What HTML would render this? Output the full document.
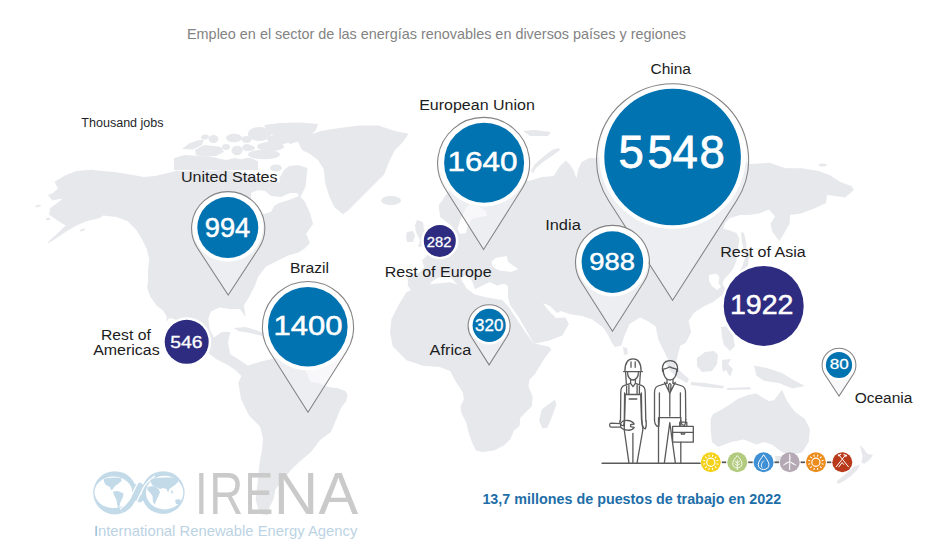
<!DOCTYPE html>
<html><head><meta charset="utf-8"><style>
html,body{margin:0;padding:0;background:#fff;}
body{width:946px;height:549px;overflow:hidden;position:relative;}
svg{position:absolute;left:0;top:0;}
text{font-family:"Liberation Sans",Arial,sans-serif;}
.num{fill:#fff;text-anchor:middle;stroke:#fff;}
.lbl{fill:#1c1c1c;font-size:15.5px;text-anchor:middle;}
</style></head><body>
<svg width="946" height="549" viewBox="0 0 946 549">
<defs>
<linearGradient id="pg" x1="0" y1="0" x2="0" y2="1">
<stop offset="0" stop-color="#fff" stop-opacity="1"/>
<stop offset="0.55" stop-color="#fff" stop-opacity="0.85"/>
<stop offset="1" stop-color="#f4f4f6" stop-opacity="0.5"/>
</linearGradient>
</defs>
<g fill="#e7e8ec">
<path d="M182.0,149.0 L189.0,143.5 L197.0,140.5 L204.0,139.5 L202.0,145.0 L193.0,149.5Z"/>
<path d="M195.0,150.0 L204.0,145.0 L214.0,146.0 L221.0,147.0 L224.0,152.0 L216.0,156.0 L205.0,156.5 L196.0,155.0Z"/>
<path d="M174.0,158.0 L185.0,155.0 L200.0,156.0 L212.0,157.0 L226.0,160.0 L235.0,158.0 L245.0,160.0 L252.0,160.0 L258.0,161.0 L258.0,170.0 L174.0,170.0Z"/>
<path d="M264.0,125.0 L280.0,123.0 L300.0,122.5 L318.0,124.0 L316.0,130.0 L310.0,136.0 L300.0,141.0 L290.0,144.0 L285.0,140.0 L275.0,136.0 L268.0,133.0Z"/>
<path d="M267.0,137.0 L278.0,134.0 L290.0,136.0 L288.0,143.0 L278.0,145.0 L268.0,143.0Z"/>
<path d="M54.6,181.8 L65.5,175.3 L76.4,170.9 L91.7,169.8 L97.0,170.5 L114.0,172.0 L130.0,174.5 L144.0,177.0 L155.0,176.0 L168.0,173.0 L177.0,170.5 L188.0,171.0 L200.0,170.0 L212.0,171.0 L224.0,170.0 L236.0,172.0 L248.0,174.0 L258.0,178.0 L266.0,181.0 L274.0,180.0 L282.0,184.0 L290.0,189.0 L298.0,194.0 L305.0,202.0 L310.0,213.0 L313.0,224.0 L306.0,234.0 L310.0,243.0 L304.0,249.0 L298.0,252.7 L288.0,255.5 L277.0,261.0 L266.0,266.4 L258.0,277.0 L255.0,285.5 L248.0,299.0 L244.0,305.0 L245.5,317.0 L242.0,312.0 L239.8,309.0 L230.0,309.0 L219.3,307.4 L211.0,311.5 L208.3,318.3 L209.7,329.3 L213.8,337.5 L222.0,332.0 L230.2,332.0 L228.0,343.0 L230.2,353.9 L238.4,359.3 L246.6,364.8 L254.8,370.3 L257.5,375.8 L252.0,378.5 L243.9,378.5 L235.7,370.3 L227.5,364.8 L216.5,359.3 L205.6,351.1 L194.7,340.2 L181.0,326.5 L178.3,320.8 L171.9,318.3 L168.5,318.5 L166.8,322.0 L166.5,316.0 L163.0,310.6 L156.6,305.5 L150.2,296.6 L147.2,288.0 L148.0,281.0 L148.0,270.3 L149.3,259.3 L146.6,248.4 L141.0,237.5 L135.7,229.3 L127.5,221.0 L116.5,217.0 L102.9,215.6 L100.0,217.9 L87.3,221.0 L76.4,225.5 L65.5,232.0 L52.4,240.8 L47.5,243.5 L48.0,242.0 L59.0,232.0 L65.5,225.5 L56.8,220.0 L49.1,214.6 L50.2,208.0 L56.0,204.0 L63.0,198.5 L57.0,199.5 L52.4,200.4 L48.0,195.0 L53.0,193.0 L57.9,188.4Z"/>
<path d="M289.0,166.0 L298.0,165.0 L307.4,168.0 L306.5,177.0 L305.6,186.4 L302.0,194.0 L298.3,201.0 L289.2,204.6 L284.0,200.0 L280.0,195.5 L279.0,186.0 L280.0,177.3 L284.0,170.0Z"/>
<path d="M304.7,136.4 L321.0,131.0 L337.5,128.2 L359.3,125.5 L378.5,125.5 L394.9,131.0 L408.6,133.7 L403.0,141.9 L394.9,150.0 L389.4,161.0 L384.0,174.7 L373.0,185.6 L364.8,193.8 L356.6,202.0 L348.4,210.2 L343.0,214.3 L334.7,207.5 L329.3,196.5 L325.2,182.9 L323.8,169.2 L318.0,160.0 L310.0,154.0 L302.0,150.0 L298.0,142.0 L300.0,137.0Z"/>
<path d="M246.5,366.0 L262.9,361.0 L276.5,358.0 L293.0,358.0 L300.0,364.0 L305.5,370.4 L310.6,381.9 L318.3,383.2 L328.5,387.0 L337.4,388.3 L345.0,390.8 L347.6,394.6 L346.3,401.0 L341.2,407.4 L336.7,418.3 L331.0,432.0 L320.0,440.0 L311.0,452.0 L299.0,462.0 L291.0,470.0 L283.0,480.0 L275.4,489.6 L273.4,499.5 L269.4,507.5 L267.5,515.4 L259.5,513.4 L255.6,499.5 L257.5,483.6 L259.5,463.8 L262.0,450.0 L263.0,438.0 L260.0,426.5 L249.0,415.6 L241.0,399.0 L238.3,382.8 L243.0,372.0Z"/>
<path d="M234.0,328.0 L245.0,327.0 L256.0,330.0 L266.0,334.0 L262.0,336.0 L250.0,333.0 L238.0,331.0Z"/>
<path d="M268.0,332.0 L279.0,332.0 L279.0,337.0 L268.0,337.0Z"/>
<path d="M406.5,291.9 L420.1,286.4 L433.8,283.7 L450.2,282.3 L463.9,286.4 L474.8,294.6 L485.8,297.3 L502.2,300.0 L507.6,305.5 L513.1,313.7 L524.0,330.1 L533.0,343.0 L541.0,345.0 L548.6,346.5 L551.4,349.3 L543.2,360.2 L535.0,373.9 L529.3,380.0 L528.5,386.6 L532.6,396.4 L531.8,406.2 L525.2,412.8 L520.3,417.7 L519.5,425.9 L513.8,430.8 L510.5,439.0 L503.9,445.6 L494.1,450.5 L482.6,452.1 L476.1,450.5 L472.8,443.9 L469.5,435.7 L466.2,422.6 L461.3,412.8 L460.5,406.2 L463.8,399.7 L463.0,393.1 L458.0,384.9 L454.8,380.0 L450.2,371.1 L439.3,367.0 L422.9,365.7 L406.5,360.2 L392.8,346.5 L390.0,332.9 L391.4,319.2 L398.3,305.5Z"/>
<path d="M554.8,399.7 L556.4,404.6 L551.5,417.7 L547.4,427.5 L542.5,428.4 L539.2,421.0 L541.6,409.5 L548.2,404.6Z"/>
<path d="M407.8,276.5 L411.4,272.9 L418.7,272.9 L424.0,267.4 L422.3,260.0 L426.0,256.5 L433.0,251.0 L440.5,245.5 L449.6,240.0 L452.0,232.0 L451.7,226.0 L446.6,222.0 L440.2,217.0 L439.0,209.3 L439.0,205.0 L445.0,196.0 L455.0,185.0 L468.0,175.0 L480.0,168.0 L495.0,165.0 L510.0,172.0 L520.0,178.0 L529.0,181.0 L542.0,177.0 L553.6,176.0 L560.0,166.0 L566.0,160.6 L571.0,166.0 L574.0,171.0 L576.5,178.5 L578.0,170.0 L581.6,162.0 L589.3,158.0 L596.0,158.0 L610.0,152.0 L630.0,148.0 L660.0,145.0 L700.0,148.0 L730.0,155.0 L750.0,164.0 L769.4,162.8 L785.8,168.3 L802.2,168.3 L818.6,171.0 L829.5,175.0 L840.4,182.0 L851.4,186.0 L854.0,190.0 L845.0,197.5 L835.0,196.0 L827.0,195.0 L826.0,203.0 L813.0,209.0 L801.0,213.5 L790.0,215.0 L789.5,223.7 L783.7,233.9 L779.3,241.2 L772.0,231.0 L770.6,223.7 L775.0,216.4 L769.0,209.5 L759.0,213.5 L748.7,215.0 L740.0,215.0 L730.0,218.0 L725.0,223.0 L723.3,228.7 L729.2,230.2 L736.5,233.1 L739.4,239.0 L737.9,249.2 L736.5,260.8 L733.5,268.1 L729.2,274.0 L724.8,278.3 L722.5,283.0 L724.0,287.0 L727.3,291.0 L724.0,293.7 L713.1,301.9 L702.2,307.3 L694.0,312.8 L688.5,321.0 L691.2,331.9 L685.8,342.9 L680.3,345.6 L677.5,356.5 L674.8,367.5 L669.3,362.0 L663.9,351.1 L658.4,340.1 L655.7,326.5 L647.5,321.0 L640.0,317.5 L629.5,324.1 L624.6,335.6 L621.3,345.4 L614.8,347.0 L611.5,342.1 L608.2,335.6 L603.3,327.4 L598.4,324.1 L591.8,319.2 L582.0,315.9 L570.5,314.3 L560.7,311.0 L557.0,313.0 L550.0,306.0 L543.0,303.0 L548.0,310.0 L556.0,318.0 L565.6,317.5 L568.9,324.1 L562.3,335.6 L549.2,340.5 L534.4,343.8 L532.8,342.1 L526.0,330.0 L518.0,316.0 L510.0,305.0 L508.0,297.0 L508.0,286.0 L504.3,283.8 L497.0,285.6 L489.7,282.0 L482.4,285.6 L475.1,289.3 L471.5,280.1 L466.0,275.0 L460.6,278.3 L466.0,287.4 L462.4,289.3 L455.0,282.0 L447.8,274.7 L442.4,276.5 L436.9,278.3 L431.4,282.0 L427.8,289.3 L418.7,292.0 L411.4,291.0 L407.8,285.6Z"/>
<path d="M417.0,220.0 L423.0,222.0 L424.0,230.0 L427.0,240.0 L426.0,246.0 L418.0,247.0 L420.0,240.0 L416.0,232.0 L415.0,225.0Z"/>
<path d="M407.0,232.0 L413.0,231.0 L415.0,236.0 L413.0,242.0 L407.0,242.0 L406.0,237.0Z"/>
<path d="M558.7,147.9 L560.0,150.0 L552.0,156.0 L543.0,162.0 L536.0,168.0 L533.0,173.0 L531.0,171.0 L535.0,164.0 L543.0,157.0 L552.0,150.0Z"/>
<path d="M523.0,131.0 L535.0,130.0 L551.0,132.0 L548.0,136.0 L530.0,136.0Z"/>
<path d="M746.0,250.0 L751.0,251.0 L752.0,255.0 L749.0,258.0 L748.0,265.0 L744.0,271.0 L740.0,275.0 L738.0,273.5 L742.0,267.0 L744.5,260.0 L746.0,255.0Z"/>
<path d="M741.0,232.0 L744.0,233.0 L746.5,244.0 L746.0,250.0 L743.5,249.0 L742.0,242.0Z"/>
<path d="M728.0,304.0 L731.0,305.0 L730.0,311.0 L727.0,309.0Z"/>
<path d="M623.0,347.0 L627.0,348.0 L628.0,354.0 L624.0,355.0Z"/>
<path d="M721.0,327.0 L728.0,326.0 L733.0,335.0 L735.0,346.0 L730.0,351.0 L724.0,345.0 L722.0,337.0Z"/>
<path d="M664.0,360.0 L670.0,362.0 L680.0,371.0 L689.0,379.0 L687.0,383.0 L678.0,378.0 L670.0,371.0Z"/>
<path d="M691.0,382.0 L705.0,383.0 L724.0,386.0 L723.0,388.5 L705.0,387.0 L691.0,385.0Z"/>
<path d="M727.0,388.0 L750.0,387.0 L751.0,389.5 L727.0,390.0Z"/>
<path d="M697.0,358.0 L705.0,352.0 L714.0,351.0 L718.0,355.0 L717.0,364.0 L712.0,371.0 L702.0,372.0 L697.0,366.0Z"/>
<path d="M722.0,360.0 L731.0,359.0 L728.0,364.0 L733.0,369.0 L730.0,377.0 L726.0,370.0 L723.0,372.0 L722.0,366.0Z"/>
<path d="M753.9,365.5 L766.7,368.0 L782.0,373.1 L794.7,380.8 L804.9,385.9 L792.2,388.4 L779.4,383.3 L764.1,380.8 L756.5,375.7Z"/>
<path d="M713.1,413.9 L723.3,408.8 L738.6,398.6 L748.8,394.8 L756.5,393.5 L764.1,398.6 L769.2,401.2 L774.3,399.9 L782.0,389.7 L787.1,401.2 L794.7,411.4 L804.9,419.0 L810.0,429.2 L808.7,442.0 L802.4,452.2 L792.2,454.7 L782.0,452.2 L771.8,444.5 L764.1,442.0 L756.5,444.5 L743.7,439.4 L731.0,442.0 L718.2,447.1 L711.9,442.0 L710.6,429.2 L710.6,419.0Z"/>
<path d="M775.0,456.0 L782.0,456.0 L780.0,462.0 L776.0,462.0Z"/>
<path d="M859.8,444.8 L864.1,449.2 L867.0,453.5 L872.9,455.0 L870.0,459.4 L864.1,463.7 L861.2,462.3 L862.7,456.4 L861.2,450.6Z"/>
<path d="M860.5,464.5 L857.0,470.0 L851.0,476.0 L844.0,481.0 L838.0,484.0 L836.5,481.5 L842.0,477.0 L848.0,472.0 L854.0,466.5Z"/>
<ellipse cx="391" cy="200.5" rx="10" ry="4.5"/>
<ellipse cx="822.7" cy="165" rx="4" ry="1.5" transform="rotate(0 822.7 165)"/>
<ellipse cx="276" cy="168" rx="6" ry="3.5" transform="rotate(0 276 168)"/>
<ellipse cx="38" cy="206" rx="3" ry="1" transform="rotate(-10 38 206)"/>
<ellipse cx="48" cy="219" rx="2.2" ry="1.2" transform="rotate(0 48 219)"/>
<ellipse cx="82.5" cy="230" rx="2.8" ry="1" transform="rotate(-20 82.5 230)"/>
<ellipse cx="213.5" cy="139" rx="5" ry="4" transform="rotate(0 213.5 139)"/>
<ellipse cx="234" cy="138" rx="8" ry="4.2" transform="rotate(0 234 138)"/>
<ellipse cx="237" cy="150.5" rx="5.5" ry="4.8" transform="rotate(0 237 150.5)"/>
<ellipse cx="246.5" cy="139.5" rx="5" ry="3.5" transform="rotate(0 246.5 139.5)"/>
<ellipse cx="247" cy="147.5" rx="4.8" ry="3.5" transform="rotate(0 247 147.5)"/>
<ellipse cx="259.5" cy="134" rx="11.5" ry="7" transform="rotate(0 259.5 134)"/>
<ellipse cx="270.5" cy="146.5" rx="13.5" ry="4.6" transform="rotate(0 270.5 146.5)"/>
<ellipse cx="248.5" cy="148" rx="6.5" ry="3" transform="rotate(0 248.5 148)"/>
<ellipse cx="264" cy="154.5" rx="16" ry="4.8" transform="rotate(0 264 154.5)"/>
<ellipse cx="248" cy="162" rx="8" ry="4" transform="rotate(0 248 162)"/>
<ellipse cx="226" cy="147" rx="4" ry="3" transform="rotate(0 226 147)"/>
<ellipse cx="205" cy="137" rx="4" ry="2.5" transform="rotate(-10 205 137)"/>
</g>
<g fill="#ffffff">
<path d="M251.0,193.0 L258.0,190.0 L265.0,191.0 L271.0,196.0 L281.0,197.0 L290.0,193.0 L297.0,193.0 L299.0,196.0 L289.0,200.0 L279.0,203.0 L274.0,206.0 L271.0,212.0 L264.0,214.0 L256.0,210.0 L251.0,203.0Z"/>
<path d="M495.3,257.9 L506.8,256.0 L508.0,261.7 L518.3,269.3 L510.6,271.9 L499.1,270.6 L492.8,266.8 L491.5,261.7Z"/>
<path d="M709.0,275.0 L716.0,273.5 L719.5,277.0 L718.5,283.0 L721.0,287.0 L717.0,290.0 L712.0,286.0 L709.0,281.0Z"/>
<path d="M461.0,218.0 L466.0,208.0 L470.0,204.0 L478.0,206.0 L486.0,211.0 L487.0,216.0 L480.0,217.0 L472.0,219.0 L468.0,225.0 L466.0,233.0 L460.0,234.0 L457.5,229.0Z"/>
</g>
<g fill="#c3dae9">
<circle cx="114.8" cy="492.8" r="21.6"/><circle cx="163.2" cy="492.6" r="21.4"/>
</g>
<clipPath id="irc"><circle cx="114.8" cy="492.8" r="21.6"/><circle cx="163.2" cy="492.6" r="21.4"/><ellipse cx="139" cy="492.5" rx="6.5" ry="10"/></clipPath>
<g clip-path="url(#irc)">
<path d="M122,473 C131,479 134,486 137,492.5 C140,499 143,506 153,512" fill="none" stroke="#c3dae9" stroke-width="6.5"/>
<path d="M122,512 C131,506 134,499 137,492.5 C140,486 143,479 153,473" fill="none" stroke="#fff" stroke-width="8.6"/>
<path d="M122,512 C131,506 134,499 137,492.5 C140,486 143,479 153,473" fill="none" stroke="#c3dae9" stroke-width="6"/>
</g>
<ellipse cx="113.4" cy="492.3" rx="18.9" ry="15.7" fill="#fff"/>
<ellipse cx="164.6" cy="492.55" rx="18.7" ry="16.85" fill="#fff"/>
<g fill="#c3dae9">
<path d="M103.7,479 L108,478 L115,477.5 L121,478 L121.5,481 L118,484 L115,486 L112.5,489.5 L111,490 L110,487 L106,485 L104,482 Z"/>
<path d="M113,491.5 L118,491 L123.5,493.5 L123,497 L120.5,502 L119,508 L117.5,506 L116.5,500 L114,495 Z"/>
<path d="M151,479.5 L156,478 L165,477.5 L172,477.5 L178,478.5 L178,482 L175,485 L172,487 L169.5,489 L168,492.5 L166.5,489 L163,488 L160,489 L157,487.5 L153,486 L151,483 Z"/>
<path d="M147.5,487 L152,486 L156,487 L158.5,489 L160,492 L158.5,496 L156.5,500 L154.5,504.5 L153,502 L152.5,496 L149.5,492 L147.3,490 Z"/>
<path d="M175,500 L179,499 L181,501 L179.5,504 L176,504 Z M171,490 L173.5,492 L171.5,494 Z"/>
</g>
<g font-size="60" fill="#cacaca"><text transform="translate(195.1,513.8) scale(0.76,1)">I</text><text transform="translate(209.3,513.8) scale(0.785,1)">R</text><text transform="translate(244.4,513.8) scale(0.717,1)">E</text><text transform="translate(273.8,513.8) scale(1.027,1)">N</text><text transform="translate(318.6,513.8) scale(0.9925,1)">A</text></g>
<text x="93.9" y="535.5" font-size="14.6" fill="#bcd3e4" textLength="263.4" lengthAdjust="spacingAndGlyphs"><tspan fill="#93bad6">I</tspan>nternational Renewable Energy Agency</text>
<text x="436.5" y="39" font-size="15" fill="#838383" text-anchor="middle" textLength="499" lengthAdjust="spacingAndGlyphs">Empleo en el sector de las energías renovables en diversos países y regiones</text>
<text x="81.3" y="126.7" font-size="12.5" fill="#1f1f2a" textLength="82.3" lengthAdjust="spacingAndGlyphs">Thousand jobs</text>
<g fill="none" stroke="#5a5a5a" stroke-width="1.3" stroke-linejoin="round" stroke-linecap="round">
<line x1="602.2" y1="463.2" x2="700" y2="463.2" stroke-width="1.6"/>
<path d="M624.9,371.2 C624.9,362.5 628.5,358.9 633,358.9 C637.5,358.9 641.1,362.5 641.1,371.2 M623.6,371.6 L642.4,371.6 M631,361.8 L631,367.3 M635.2,361.8 L635.2,367.3"/>
<path d="M627.6,372.5 C627.4,376.5 630,380 633,380 C636,380 638.6,376.5 638.4,372.5 M625.6,372.5 L626.4,384.3 M640.4,372.5 L639.6,384.3"/>
<path d="M630.6,379.3 L630.6,383.4 L633,386.6 L635.4,383.4 L635.4,379.3 M630.6,383.4 L624,385.6 C621.6,386.5 620.8,389 620.8,392 L620.5,421 M635.4,383.4 L642,385.6 C644.4,386.5 645.2,389 645.2,392 L645.8,421 M624.6,393 L624.3,420.6 M641.4,393 L641.8,420.6"/>
<path d="M626.6,386.2 L626.6,394.5 M628.9,385.2 L628.9,394.5 M637.1,385.2 L637.1,394.5 M639.4,386.2 L639.4,394.5 M625.3,394.5 L640.7,394.5 M629.2,399 L636.8,399"/>
<path d="M625.3,394.5 L624.6,420 L624.2,429.5 L628.9,462.6 M640.7,394.5 L641.5,420 L642.9,429.5 L637.1,462.6 M632.9,433.5 L632.9,462.6"/>
<path d="M619.8,421 C619.6,424 621,425.8 623.6,425.6 L624.4,421 M642,421 C641.8,425 643.6,429 645.4,428.8 C646.6,426 646.4,423 646.2,421"/>
<path d="M610.9,423.1 L620.6,423.6 L620.6,427.2 L610.9,427.1 C609.2,427 609.2,423.2 610.9,423.1 Z M620.6,423.6 C622,421.3 624.5,420.3 627.5,420.5 C630.5,420.7 633,422 634.2,424 L630.6,424.6 L630.6,426.6 L634.2,427.4 C633,429.5 630.5,430.4 627.5,430.2 C624.5,430 622,429 620.6,427.2"/>
<path d="M662.6,371.5 C661.6,364.5 664.5,360.7 670,360.7 C675.5,360.7 678.4,364.5 677.4,371.5 M663,369.3 C666,368.6 667.8,368.3 669.8,366.8 C671.6,368.3 674,368.6 677,369.3 M663.2,369.5 C663,375.5 666,380 670,380 C674,380 677,375.5 676.8,369.5"/>
<path d="M667,379.4 L667,383.2 M673,379.4 L673,383.2 M664.6,382.4 L669.8,393.3 L675.2,382.4 M668.6,384.6 L669.8,383.4 L671,384.6 L670.6,391.4 L669.8,392.6 L669,391.4 Z"/>
<path d="M667,383.2 L658,386 C655.5,387 654.5,389.5 654.5,392.5 L654.5,419.5 M673,383.2 L682,386 C684.5,387 685.5,389.5 685.5,392.5 L685.8,419.5 M659.4,392.8 L659.4,418 M680.4,392.8 L680.4,418 M658.9,417.6 L680.8,417.6 M669.8,393.3 L669.8,416.2"/>
<path d="M654.5,419.5 C654.3,423 655.8,426.5 658.8,426.5 L659.4,418 M680.6,420 C680.6,423 682,425.5 684.6,425.4 C685.8,423 685.8,421 685.8,419.5"/>
<path d="M658.5,417.6 L658.5,462.6 M680.8,417.6 L680.8,426.4 M680.8,442.2 L680.8,462.6 M669.8,422.6 L664.4,462.6 M669.8,422.6 L675.3,462.6"/>
<path d="M672.6,426.4 L693.3,426.4 L693.3,442.2 L672.6,442.2 Z M672.6,432.4 L693.3,432.4 M679.7,426.4 L679.7,422.2 L686.8,422.2 L686.8,426.4 M681.3,432.4 L681.3,434 L684.6,434 L684.6,432.4"/>
</g>
<line x1="721.8" y1="462.3" x2="726.2" y2="462.3" stroke="#555" stroke-width="1.7"/>
<line x1="748.2" y1="462.3" x2="752.7" y2="462.3" stroke="#555" stroke-width="1.7"/>
<line x1="774.5" y1="462.3" x2="778.9" y2="462.3" stroke="#555" stroke-width="1.7"/>
<line x1="800.6" y1="462.3" x2="805.0" y2="462.3" stroke="#555" stroke-width="1.7"/>
<line x1="826.9" y1="462.3" x2="831.3" y2="462.3" stroke="#555" stroke-width="1.7"/>
<circle cx="710.8" cy="462.3" r="10" fill="#f4d11b"/><circle cx="710.8" cy="462.3" r="4.1" fill="none" stroke="#fff" stroke-width="1.15"/><line x1="716.50" y1="463.83" x2="718.43" y2="464.34" stroke="#fff" stroke-width="1.1"/><line x1="714.97" y1="466.47" x2="716.39" y2="467.89" stroke="#fff" stroke-width="1.1"/><line x1="712.33" y1="468.00" x2="712.84" y2="469.93" stroke="#fff" stroke-width="1.1"/><line x1="709.27" y1="468.00" x2="708.76" y2="469.93" stroke="#fff" stroke-width="1.1"/><line x1="706.63" y1="466.47" x2="705.21" y2="467.89" stroke="#fff" stroke-width="1.1"/><line x1="705.10" y1="463.83" x2="703.17" y2="464.34" stroke="#fff" stroke-width="1.1"/><line x1="705.10" y1="460.77" x2="703.17" y2="460.26" stroke="#fff" stroke-width="1.1"/><line x1="706.63" y1="458.13" x2="705.21" y2="456.71" stroke="#fff" stroke-width="1.1"/><line x1="709.27" y1="456.60" x2="708.76" y2="454.67" stroke="#fff" stroke-width="1.1"/><line x1="712.33" y1="456.60" x2="712.84" y2="454.67" stroke="#fff" stroke-width="1.1"/><line x1="714.97" y1="458.13" x2="716.39" y2="456.71" stroke="#fff" stroke-width="1.1"/><line x1="716.50" y1="460.77" x2="718.43" y2="460.26" stroke="#fff" stroke-width="1.1"/>
<circle cx="737.3" cy="462.3" r="10" fill="#b3cb7e"/>
<path d="M737.3,455.5 C739.8,458.8 742.3,461.3 741.9,464.3 C741.5,466.90000000000003 739.3,467.90000000000003 737.3,467.90000000000003 C735.3,467.90000000000003 733.0999999999999,466.90000000000003 732.6999999999999,464.3 C732.3,461.3 734.8,458.8 737.3,455.5 Z M737.3,459.8 L737.3,470.1 M737.3,463.1 L739.6999999999999,461.1 M737.3,463.1 L734.9,461.1 M737.3,465.7 L739.9,463.7 M737.3,465.7 L734.6999999999999,463.7" fill="none" stroke="#fff" stroke-width="0.85"/>
<circle cx="763.6" cy="462.3" r="10" fill="#3e8fd3"/>
<path d="M763.6,454.7 C765.6,458.1 769.0,461.5 769.0,464.7 C769.0,467.7 766.6,469.5 763.6,469.5 C760.6,469.5 758.2,467.7 758.2,464.7 C758.2,461.5 761.6,458.1 763.6,454.7 Z M763.8000000000001,460.7 C761.4,462.90000000000003 760.6,465.90000000000003 762.2,467.5" fill="none" stroke="#fff" stroke-width="1"/>
<circle cx="789.7" cy="462.3" r="10" fill="#b4a9b4"/>
<path d="M789.70,461.50 Q791.00,458.30 789.70,454.10 Q789.30,458.30 789.70,461.50 Z M789.70,461.50 Q791.82,464.23 796.11,465.20 Q792.67,462.75 789.70,461.50 Z M789.70,461.50 Q786.28,461.97 783.29,465.20 Q787.13,463.45 789.70,461.50 Z" fill="#fff" stroke="#fff" stroke-width="0.5" stroke-linejoin="round"/>
<line x1="789.7" y1="461.5" x2="789.7" y2="470.1" stroke="#fff" stroke-width="1"/>
<circle cx="815.9" cy="462.3" r="10" fill="#ec8c1d"/><circle cx="815.9" cy="462.3" r="4.1" fill="none" stroke="#fff" stroke-width="1.15"/><line x1="821.60" y1="463.83" x2="823.53" y2="464.34" stroke="#fff" stroke-width="1.1"/><line x1="820.07" y1="466.47" x2="821.49" y2="467.89" stroke="#fff" stroke-width="1.1"/><line x1="817.43" y1="468.00" x2="817.94" y2="469.93" stroke="#fff" stroke-width="1.1"/><line x1="814.37" y1="468.00" x2="813.86" y2="469.93" stroke="#fff" stroke-width="1.1"/><line x1="811.73" y1="466.47" x2="810.31" y2="467.89" stroke="#fff" stroke-width="1.1"/><line x1="810.20" y1="463.83" x2="808.27" y2="464.34" stroke="#fff" stroke-width="1.1"/><line x1="810.20" y1="460.77" x2="808.27" y2="460.26" stroke="#fff" stroke-width="1.1"/><line x1="811.73" y1="458.13" x2="810.31" y2="456.71" stroke="#fff" stroke-width="1.1"/><line x1="814.37" y1="456.60" x2="813.86" y2="454.67" stroke="#fff" stroke-width="1.1"/><line x1="817.43" y1="456.60" x2="817.94" y2="454.67" stroke="#fff" stroke-width="1.1"/><line x1="820.07" y1="458.13" x2="821.49" y2="456.71" stroke="#fff" stroke-width="1.1"/><line x1="821.60" y1="460.77" x2="823.53" y2="460.26" stroke="#fff" stroke-width="1.1"/>
<circle cx="842.3" cy="462.3" r="10" fill="#b83a1b"/>
<path d="M835.9,467.1 L842.3,459.1 L848.6999999999999,467.1 M838.6999999999999,467.1 L842.0999999999999,462.5 L843.9,464.7 M842.3,459.1 L839.0999999999999,455.1 M842.3,459.1 L845.5,455.1" fill="none" stroke="#fff" stroke-width="1" stroke-linejoin="round"/>
<circle cx="838.9" cy="455.3" r="1.1" fill="#fff"/><circle cx="845.9" cy="455.7" r="1.1" fill="#fff"/><circle cx="840.5" cy="454.5" r="0.8" fill="#fff"/><circle cx="844.1999999999999" cy="454.7" r="0.8" fill="#fff"/>
<clipPath id="cp0"><path d="M228.20,295.00 L258.82,248.25 A36.6,36.6 0 1 0 197.58,248.25 Z"/></clipPath>
<path d="M228.20,295.00 L258.82,248.25 A36.6,36.6 0 1 0 197.58,248.25 Z" fill="#f3f3f5" fill-opacity="0.55"/>
<circle cx="227.8" cy="226.30" r="35.50" fill="#fff" clip-path="url(#cp0)"/>
<path d="M228.20,295.00 L258.82,248.25 A36.6,36.6 0 1 0 197.58,248.25 Z" fill="none" stroke="#838383" stroke-width="1.05"/>
<circle cx="227.8" cy="227.6" r="30.5" fill="#0273b1"/>
<text x="227.55" y="237.0" font-size="27" class="num" stroke-width="0.50" textLength="45.5" lengthAdjust="spacingAndGlyphs">994</text>
<clipPath id="cp1"><path d="M308.00,412.20 L346.52,351.41 A45.6,45.6 0 1 0 269.48,351.41 Z"/></clipPath>
<path d="M308.00,412.20 L346.52,351.41 A45.6,45.6 0 1 0 269.48,351.41 Z" fill="#f3f3f5" fill-opacity="0.55"/>
<circle cx="307.8" cy="325.50" r="44.80" fill="#fff" clip-path="url(#cp1)"/>
<path d="M308.00,412.20 L346.52,351.41 A45.6,45.6 0 1 0 269.48,351.41 Z" fill="none" stroke="#838383" stroke-width="1.05"/>
<circle cx="307.8" cy="326.8" r="39.8" fill="#0273b1"/>
<text x="308.0" y="335.0" font-size="28" class="num" stroke-width="0.50" textLength="69" lengthAdjust="spacingAndGlyphs">1400</text>
<clipPath id="cp2"><path d="M483.60,249.50 L522.48,187.98 A46.0,46.0 0 1 0 444.72,187.98 Z"/></clipPath>
<path d="M483.60,249.50 L522.48,187.98 A46.0,46.0 0 1 0 444.72,187.98 Z" fill="#f3f3f5" fill-opacity="0.55"/>
<circle cx="484.1" cy="161.50" r="45.00" fill="#fff" clip-path="url(#cp2)"/>
<path d="M483.60,249.50 L522.48,187.98 A46.0,46.0 0 1 0 444.72,187.98 Z" fill="none" stroke="#838383" stroke-width="1.05"/>
<circle cx="484.1" cy="162.8" r="40.0" fill="#0273b1"/>
<text x="482.5" y="171.0" font-size="28" class="num" stroke-width="0.50" textLength="70" lengthAdjust="spacingAndGlyphs">1640</text>
<clipPath id="cp3"><path d="M672.60,300.30 L736.54,200.78 A76.0,76.0 0 1 0 608.66,200.78 Z"/></clipPath>
<path d="M672.60,300.30 L736.54,200.78 A76.0,76.0 0 1 0 608.66,200.78 Z" fill="#f3f3f5" fill-opacity="0.55"/>
<circle cx="672.6" cy="155.70" r="73.30" fill="#fff" clip-path="url(#cp3)"/>
<path d="M672.60,300.30 L736.54,200.78 A76.0,76.0 0 1 0 608.66,200.78 Z" fill="none" stroke="#838383" stroke-width="1.05"/>
<circle cx="672.6" cy="157.0" r="68.3" fill="#0273b1"/>
<text x="618.6 647.5 672.6 699.5" y="168" font-size="45.5" class="num" stroke-width="0.8" style="text-anchor:start">5548</text>
<clipPath id="cp4"><path d="M612.50,331.30 L643.71,282.27 A37.0,37.0 0 1 0 581.29,282.27 Z"/></clipPath>
<path d="M612.50,331.30 L643.71,282.27 A37.0,37.0 0 1 0 581.29,282.27 Z" fill="#f3f3f5" fill-opacity="0.55"/>
<circle cx="612.4" cy="260.80" r="35.80" fill="#fff" clip-path="url(#cp4)"/>
<path d="M612.50,331.30 L643.71,282.27 A37.0,37.0 0 1 0 581.29,282.27 Z" fill="none" stroke="#838383" stroke-width="1.05"/>
<circle cx="612.4" cy="262.1" r="30.8" fill="#0273b1"/>
<text x="612.05" y="270.4" font-size="24.7" class="num" stroke-width="0.47" textLength="45.8" lengthAdjust="spacingAndGlyphs">988</text>
<clipPath id="cp5"><path d="M489.10,364.90 L506.81,337.08 A21.0,21.0 0 1 0 471.39,337.08 Z"/></clipPath>
<path d="M489.10,364.90 L506.81,337.08 A21.0,21.0 0 1 0 471.39,337.08 Z" fill="#f3f3f5" fill-opacity="0.55"/>
<circle cx="489.2" cy="324.10" r="20.40" fill="#fff" clip-path="url(#cp5)"/>
<path d="M489.10,364.90 L506.81,337.08 A21.0,21.0 0 1 0 471.39,337.08 Z" fill="none" stroke="#838383" stroke-width="1.05"/>
<circle cx="489.2" cy="325.4" r="16.6" fill="#0273b1"/>
<text x="489.2" y="330.8" font-size="15.6" class="num" stroke-width="0.30" textLength="28.2" lengthAdjust="spacingAndGlyphs">320</text>
<clipPath id="cp6"><path d="M839.00,396.10 L853.15,374.44 A16.9,16.9 0 1 0 824.85,374.44 Z"/></clipPath>
<path d="M839.00,396.10 L853.15,374.44 A16.9,16.9 0 1 0 824.85,374.44 Z" fill="#f3f3f5" fill-opacity="0.55"/>
<circle cx="839.0" cy="363.70" r="16.30" fill="#fff" clip-path="url(#cp6)"/>
<path d="M839.00,396.10 L853.15,374.44 A16.9,16.9 0 1 0 824.85,374.44 Z" fill="none" stroke="#838383" stroke-width="1.05"/>
<circle cx="839.0" cy="365.0" r="13.1" fill="#0273b1"/>
<text x="839.3" y="369.1" font-size="14" class="num" stroke-width="0.27" textLength="19" lengthAdjust="spacingAndGlyphs">80</text>
<circle cx="186.7" cy="341.8" r="24.5" fill="#fff"/><circle cx="186.7" cy="341.8" r="22" fill="#2e2c80"/><text x="186.3" y="347.8" font-size="17.2" class="num" stroke-width="0.33" textLength="32.2" lengthAdjust="spacingAndGlyphs">546</text>
<circle cx="439.8" cy="240.9" r="18.5" fill="#fff"/><circle cx="439.8" cy="240.9" r="16" fill="#2e2c80"/><text x="439.1" y="246.6" font-size="13.8" class="num" stroke-width="0.26" textLength="24.6" lengthAdjust="spacingAndGlyphs">282</text>
<circle cx="763.7" cy="305.9" r="42.5" fill="#fff"/><circle cx="763.7" cy="305.9" r="40" fill="#2e2c80"/><text x="761.7" y="314.0" font-size="28" class="num" stroke-width="0.50" textLength="63.5" lengthAdjust="spacingAndGlyphs">1922</text>
<text x="229.3" y="181.7" class="lbl" textLength="96.7" lengthAdjust="spacingAndGlyphs">United States</text>
<text x="309.5" y="272.8" class="lbl" textLength="39.2" lengthAdjust="spacingAndGlyphs">Brazil</text>
<text x="477" y="110.4" class="lbl" textLength="115.6" lengthAdjust="spacingAndGlyphs">European Union</text>
<text x="670.7" y="74.3" class="lbl">China</text>
<text x="563" y="229.7" class="lbl" textLength="35.6" lengthAdjust="spacingAndGlyphs">India</text>
<text x="763" y="257.4" class="lbl" textLength="85.6" lengthAdjust="spacingAndGlyphs">Rest of Asia</text>
<text x="438.2" y="276.5" class="lbl" textLength="106.9" lengthAdjust="spacingAndGlyphs">Rest of Europe</text>
<text x="450.4" y="355.1" class="lbl" textLength="41.6" lengthAdjust="spacingAndGlyphs">Africa</text>
<text x="883.5" y="402.5" class="lbl">Oceania</text>
<text x="125.9" y="339.8" class="lbl" textLength="49.8" lengthAdjust="spacingAndGlyphs">Rest of</text>
<text x="126.4" y="355.3" class="lbl" textLength="66.5" lengthAdjust="spacingAndGlyphs">Americas</text>
<text x="631.8" y="504.2" font-size="15.5" font-weight="bold" fill="#1d6ea8" text-anchor="middle" textLength="298.8" lengthAdjust="spacingAndGlyphs">13,7 millones de puestos de trabajo en 2022</text>
</svg>
</body></html>
